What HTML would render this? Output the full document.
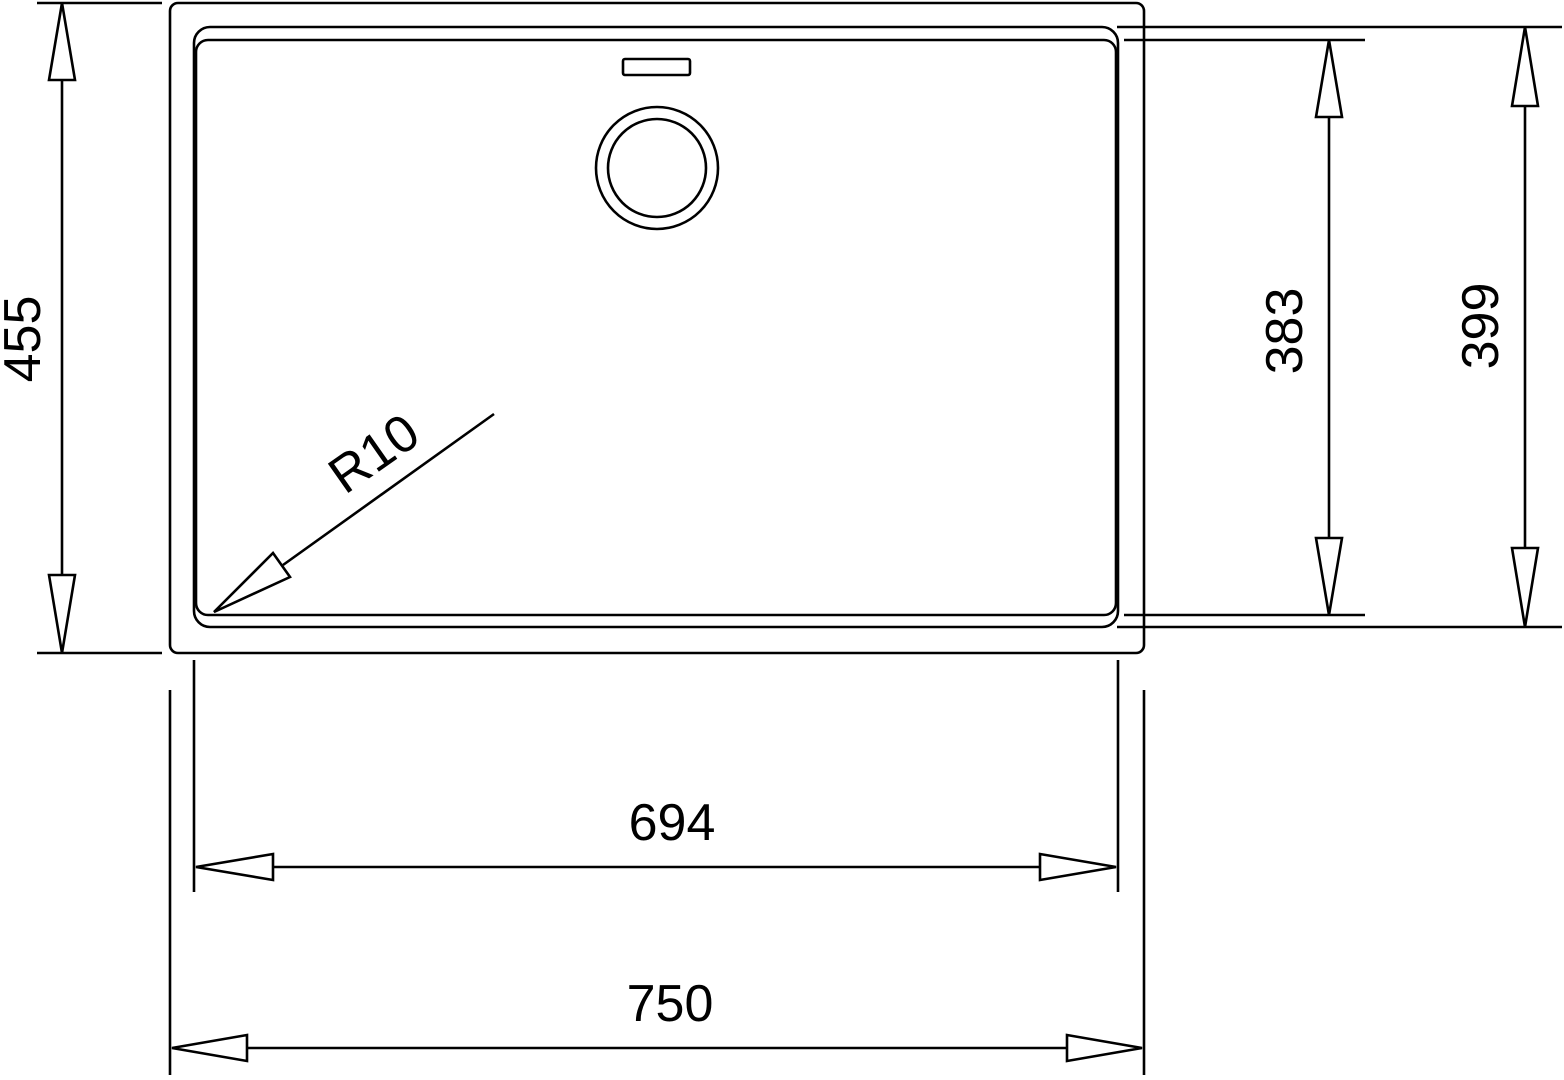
<!DOCTYPE html>
<html><head><style>html,body{margin:0;padding:0;background:#fff}svg{display:block}</style></head><body>
<svg width="1564" height="1080" viewBox="0 0 1564 1080" xmlns="http://www.w3.org/2000/svg">
<g fill="none" stroke="#000" stroke-width="2.6">
<rect x="170" y="3" width="974" height="650" rx="8"/>
<rect x="194" y="27" width="924" height="600" rx="16"/>
<rect x="196" y="40" width="920" height="575" rx="12"/>
<rect x="623" y="59" width="67" height="16" rx="2"/>
<circle cx="657" cy="168" r="61"/>
<circle cx="657" cy="168" r="49"/>
<line x1="37" y1="3" x2="162" y2="3"/><line x1="37" y1="653" x2="162" y2="653"/>
<line x1="62" y1="80" x2="62" y2="575"/>
<polygon points="62,3 49,80 75,80"/><polygon points="62,653 49,575 75,575"/>
<line x1="1124" y1="40" x2="1365" y2="40"/><line x1="1124" y1="615" x2="1365" y2="615"/>
<line x1="1329" y1="117" x2="1329" y2="538"/>
<polygon points="1329,40 1316,117 1342,117"/><polygon points="1329,615 1316,538 1342,538"/>
<line x1="1117" y1="27" x2="1562" y2="27"/><line x1="1117" y1="627" x2="1562" y2="627"/>
<line x1="1525" y1="106" x2="1525" y2="548"/>
<polygon points="1525,27 1512,106 1538,106"/><polygon points="1525,627 1512,548 1538,548"/>
<line x1="194" y1="660" x2="194" y2="892"/><line x1="1118" y1="660" x2="1118" y2="892"/>
<line x1="273" y1="867" x2="1040" y2="867"/>
<polygon points="196,867 273,854 273,880"/><polygon points="1116,867 1040,854 1040,880"/>
<line x1="170" y1="690" x2="170" y2="1075"/><line x1="1144" y1="690" x2="1144" y2="1075"/>
<line x1="247" y1="1048" x2="1067" y2="1048"/>
<polygon points="172,1048 247,1035 247,1061"/><polygon points="1142,1048 1067,1035 1067,1061"/>
<line x1="494" y1="414" x2="283" y2="565"/>
<polygon points="214,612 273,553 290,577"/>
</g>
<g font-family="Liberation Sans, sans-serif" font-size="52" fill="#000" text-anchor="middle">
<text x="672" y="840">694</text>
<text x="670" y="1021">750</text>
<text transform="translate(40,339) rotate(-90)">455</text>
<text transform="translate(1302,331) rotate(-90)">383</text>
<text transform="translate(1498,326) rotate(-90)">399</text>
<text transform="translate(384,468) rotate(-35)">R10</text>
</g>
</svg>
</body></html>
